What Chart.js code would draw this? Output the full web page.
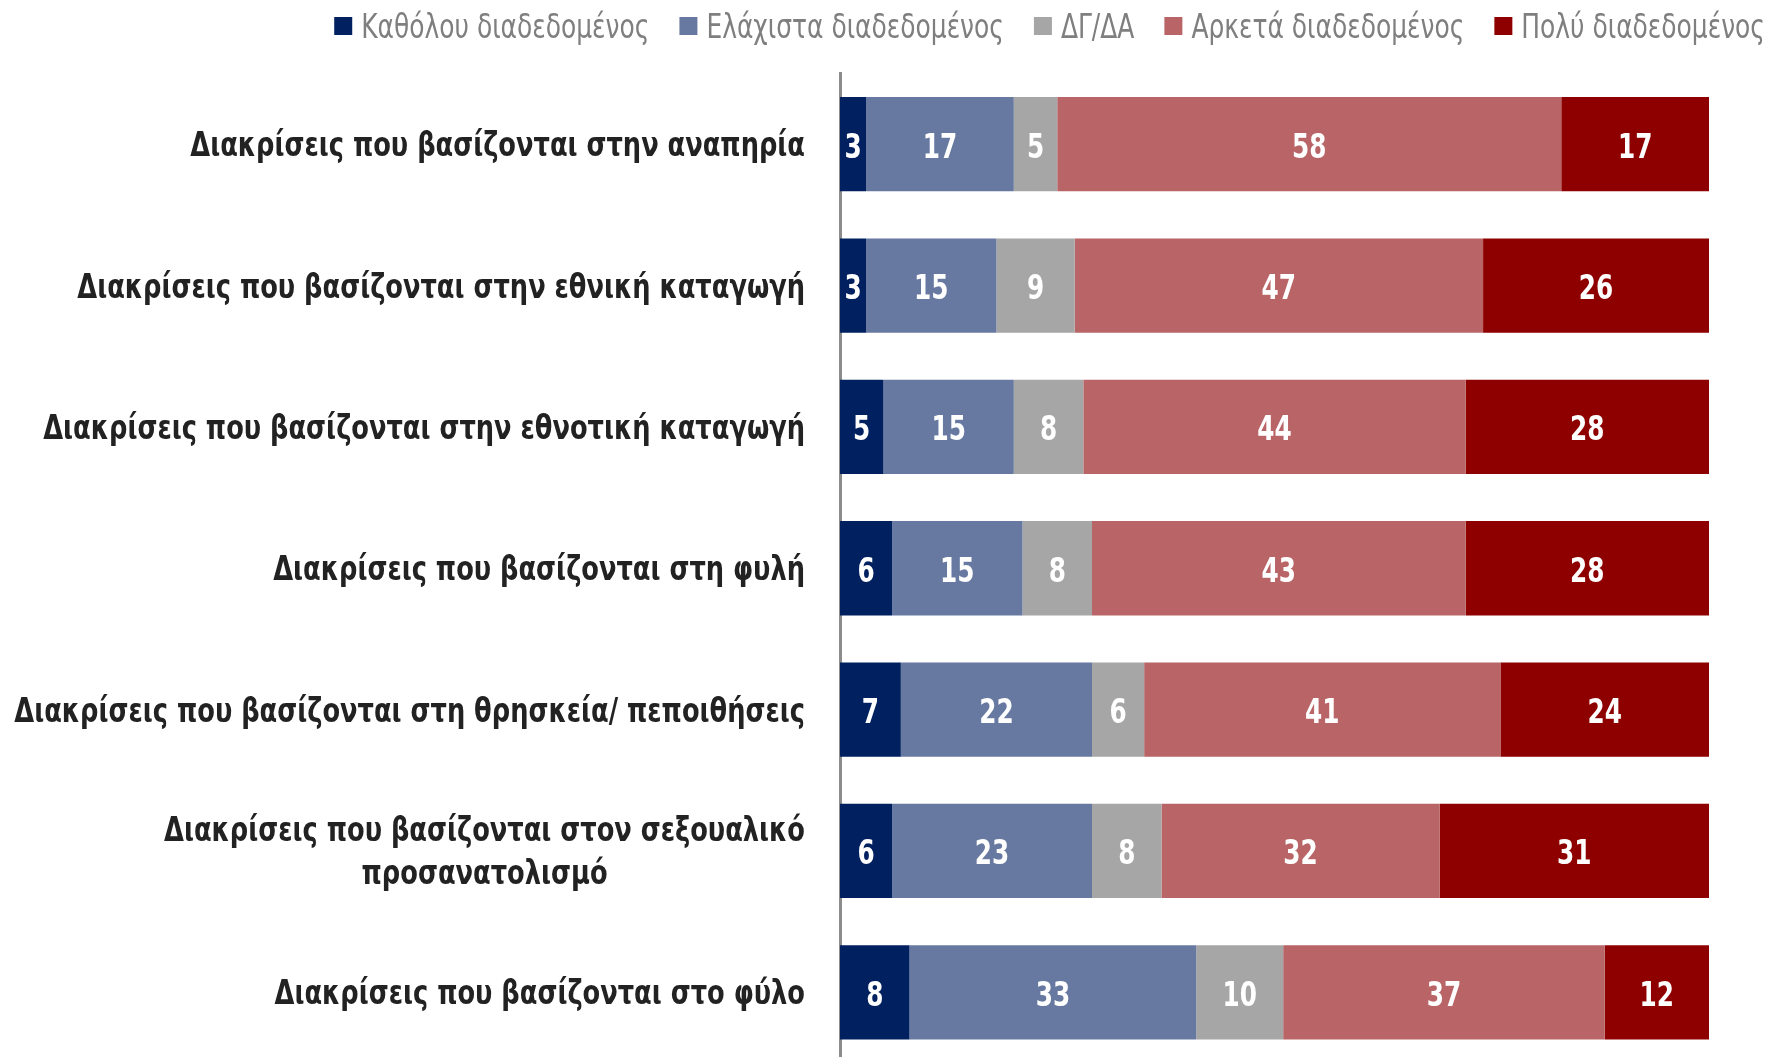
<!DOCTYPE html>
<html>
<head>
<meta charset="utf-8">
<script src="https://cdn.jsdelivr.net/npm/chart.js@4/dist/chart.umd.min.js"></script>
<style>
html,body{margin:0;padding:0;background:#fff;overflow:hidden;width:1769px;height:1057px;}
#wrap{position:relative;width:1769px;height:1063px;}
</style>
</head>
<body>
<div id="wrap"><canvas id="c" width="1769" height="1063"></canvas></div>
<script>
const categories = [
  'Διακρίσεις που βασίζονται στην αναπηρία',
  'Διακρίσεις που βασίζονται στην εθνική καταγωγή',
  'Διακρίσεις που βασίζονται στην εθνοτική καταγωγή',
  'Διακρίσεις που βασίζονται στη φυλή',
  'Διακρίσεις που βασίζονται στη θρησκεία/ πεποιθήσεις',
  ['Διακρίσεις που βασίζονται στον σεξουαλικό', 'προσανατολισμό'],
  'Διακρίσεις που βασίζονται στο φύλο'
];
const seriesNames = ['Καθόλου διαδεδομένος', 'Ελάχιστα διαδεδομένος', 'ΔΓ/ΔΑ', 'Αρκετά διαδεδομένος', 'Πολύ διαδεδομένος'];
const notAtAll = [3, 3, 5, 6, 7, 6, 8];
const little   = [17, 15, 15, 15, 22, 23, 33];
const dkna     = [5, 9, 8, 8, 6, 8, 10];
const quite    = [58, 47, 44, 43, 41, 32, 37];
const very     = [17, 26, 28, 28, 24, 31, 12];
const seriesValues = [notAtAll, little, dkna, quite, very];
const colors = ['#00205F', '#6779A0', '#A6A6A6', '#B96567', '#8E0000'];

const FONT = "'DejaVu Sans Condensed', 'DejaVu Sans', sans-serif";

function scaledText(ctx, txt, x, y, sx) {
  ctx.save();
  ctx.translate(x, y);
  ctx.scale(sx, 1);
  ctx.fillText(txt, 0, 0);
  ctx.restore();
}

const valueLabels = {
  id: 'valueLabels',
  afterDatasetsDraw(chart) {
    const ctx = chart.ctx;
    ctx.save();
    ctx.font = 'bold 34px ' + FONT;
    ctx.fillStyle = '#ffffff';
    ctx.textAlign = 'center';
    ctx.textBaseline = 'middle';
    chart.data.datasets.forEach((ds, i) => {
      const meta = chart.getDatasetMeta(i);
      meta.data.forEach((el, j) => {
        const p = el.getProps(['x', 'base', 'y'], true);
        scaledText(ctx, String(ds.data[j]), (p.x + p.base) / 2, p.y + 4.5, 0.81);
      });
    });
    ctx.restore();
  }
};

const catLabels = {
  id: 'catLabels',
  afterDraw(chart) {
    const ctx = chart.ctx;
    const ys = chart.scales.y;
    const right = 805;
    const sx = 0.865;
    ctx.save();
    ctx.font = 'bold 33px ' + FONT;
    ctx.fillStyle = '#222222';
    ctx.textBaseline = 'middle';
    categories.forEach((lab, i) => {
      const y = ys.getPixelForTick(i);
      if (Array.isArray(lab)) {
        const widths = lab.map(l => ctx.measureText(l).width * sx);
        const maxW = Math.max(...widths);
        const cx = right - maxW / 2;
        const lh = 43;
        const start = y - (lab.length - 1) * lh / 2;
        ctx.textAlign = 'center';
        lab.forEach((l, k) => scaledText(ctx, l, cx, start + k * lh + 3, sx));
      } else {
        ctx.textAlign = 'right';
        scaledText(ctx, lab, right, y + 3.5, sx);
      }
    });
    ctx.restore();
  }
};

const topLegend = {
  id: 'topLegend',
  afterDraw(chart) {
    const ctx = chart.ctx;
    const sx = 0.84, box = 18, gapText = 9, gapItem = 30, cy = 26, rightEdge = 1765;
    ctx.save();
    ctx.font = '33px ' + FONT;
    ctx.textBaseline = 'middle';
    ctx.textAlign = 'left';
    const items = chart.data.datasets.map(ds => ({
      text: ds.label, color: ds.backgroundColor,
      w: ctx.measureText(ds.label).width * sx
    }));
    let total = items.reduce((a, it) => a + box + gapText + it.w, 0) + gapItem * (items.length - 1);
    let x = rightEdge - total;
    items.forEach(it => {
      ctx.fillStyle = it.color;
      ctx.fillRect(x, cy - box / 2, box, box);
      ctx.fillStyle = '#7f7f7f';
      scaledText(ctx, it.text, x + box + gapText, cy + 3, sx);
      x += box + gapText + it.w + gapItem;
    });
    ctx.restore();
  }
};

new Chart(document.getElementById('c'), {
  type: 'bar',
  data: {
    labels: categories,
    datasets: seriesNames.map((n, i) => ({
      label: n,
      data: seriesValues[i],
      backgroundColor: colors[i],
      borderWidth: 0,
      categoryPercentage: 1,
      barPercentage: 0.667
    }))
  },
  options: {
    indexAxis: 'y',
    responsive: false,
    animation: false,
    layout: { padding: { top: 73.5, left: 0, right: 0, bottom: 0 } },
    scales: {
      x: { stacked: true, min: 0, max: 100, display: false },
      y: {
        stacked: true,
        grid: { display: false, drawTicks: false },
        border: { display: true, color: '#8c8c8c', width: 3 },
        ticks: { display: false },
        afterFit: s => { s.width = 840; }
      },
      y2: {
        type: 'linear',
        position: 'right',
        display: true,
        grid: { display: false, drawTicks: false },
        border: { display: false },
        ticks: { display: false },
        afterFit: s => { s.width = 60; }
      }
    },
    plugins: {
      legend: { display: false },
      title: { display: false },
      tooltip: { enabled: false }
    }
  },
  plugins: [valueLabels, catLabels, topLegend]
});
</script>
</body>
</html>
